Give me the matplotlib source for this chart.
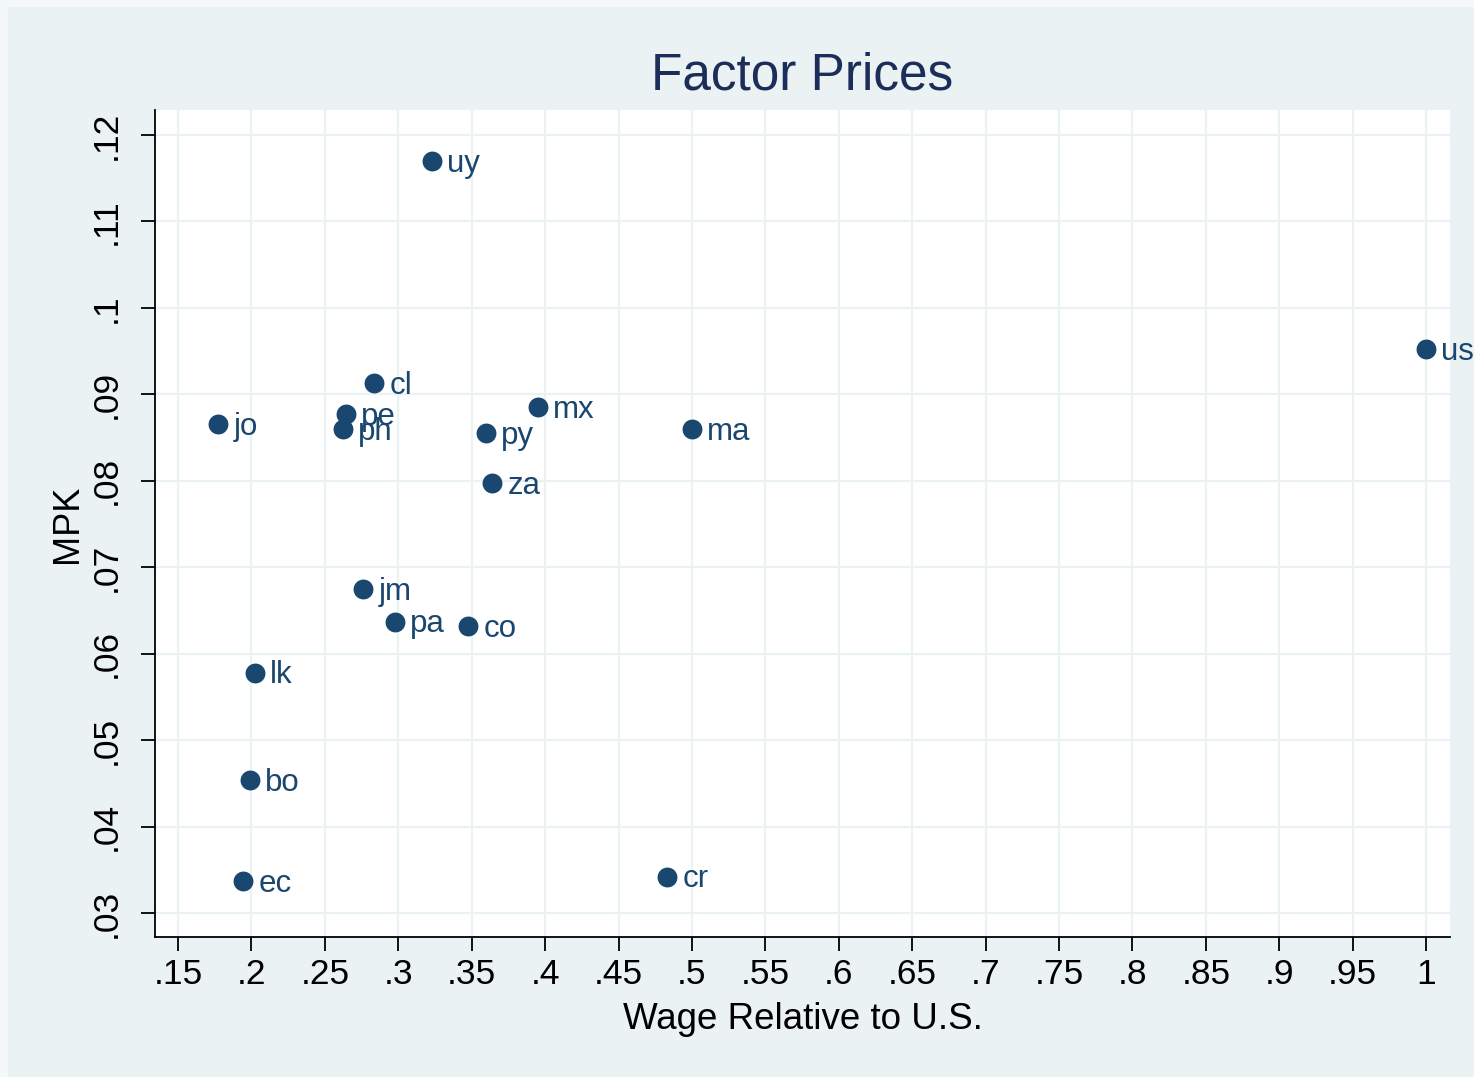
import matplotlib
matplotlib.use("Agg")
import matplotlib.pyplot as plt
from matplotlib.patches import Rectangle

# Data
countries = ["uy", "us", "cl", "pe", "ph", "jo", "mx", "py", "ma", "za",
             "jm", "pa", "co", "lk", "bo", "ec", "cr"]
wage_rel = [0.323, 1.000, 0.2835, 0.2644, 0.2624, 0.1772, 0.3952, 0.3598, 0.5001, 0.3639,
            0.2760, 0.2978, 0.3475, 0.2024, 0.1990, 0.1943, 0.4831]
mpk = [0.1170, 0.0952, 0.0913, 0.0877, 0.0860, 0.0866, 0.0885, 0.0855, 0.0860, 0.0797,
       0.0675, 0.0637, 0.0632, 0.0578, 0.0454, 0.0337, 0.0342]

xticks = [0.15, 0.2, 0.25, 0.3, 0.35, 0.4, 0.45, 0.5, 0.55, 0.6, 0.65, 0.7, 0.75,
          0.8, 0.85, 0.9, 0.95, 1.0]
xticklabels = [".15", ".2", ".25", ".3", ".35", ".4", ".45", ".5", ".55", ".6", ".65",
               ".7", ".75", ".8", ".85", ".9", ".95", "1"]
yticks = [0.03, 0.04, 0.05, 0.06, 0.07, 0.08, 0.09, 0.10, 0.11, 0.12]
yticklabels = [".03", ".04", ".05", ".06", ".07", ".08", ".09", ".1", ".11", ".12"]

plt.rcParams['font.family'] = ['Liberation Sans', 'DejaVu Sans']

W, H = 1474, 1077
fig = plt.figure(figsize=(W / 100, H / 100), dpi=100)
fig.patch.set_facecolor("#F4F8FB")
bg = Rectangle((8 / W, 0), 1, 1 - 7 / H, transform=fig.transFigure,
               facecolor="#EAF2F3", edgecolor="none", zorder=-10)
fig.add_artist(bg)

ax = fig.add_axes([155 / W, 1 - 937 / H, (1450 - 155) / W, (937 - 110) / H])
ax.set_zorder(5)
ax.set_facecolor("white")

navy = "#1A476F"
FS = 25.5
ax.scatter(wage_rel, mpk, s=205, color=navy, zorder=3, linewidths=0)
for c, xv, yv in zip(countries, wage_rel, mpk):
    ax.annotate(c, (xv, yv), xytext=(11, -2), textcoords="offset points",
                ha="left", va="center", fontsize=22.5, color=navy,
                annotation_clip=False, zorder=4)

ax.set_xlim(0.1343, 1.0163)
ax.set_ylim(0.02722, 0.1229)
ax.set_xticks(xticks)
ax.set_xticklabels(xticklabels)
ax.set_yticks(yticks)
ax.set_yticklabels(yticklabels, rotation=90, va="center")

ax.grid(True, color="#EAF2F3", linewidth=1.6, zorder=1)
ax.set_axisbelow(True)

for s in ["top", "right"]:
    ax.spines[s].set_visible(False)
for s in ["left", "bottom"]:
    ax.spines[s].set_linewidth(1.3)
    ax.spines[s].set_color("black")

ax.tick_params(axis="both", direction="out", length=10, width=1.3, labelsize=FS,
               colors="black")
ax.tick_params(axis="x", pad=5)
ax.tick_params(axis="y", pad=13)

ax.set_title("Factor Prices", fontsize=37, color="#1C2D5A", pad=15)
ax.set_xlabel("Wage Relative to U.S.", fontsize=26.5, labelpad=8)
ax.set_ylabel("MPK", fontsize=26, labelpad=4)

fig.savefig("out.png", dpi=100, facecolor=fig.get_facecolor())
